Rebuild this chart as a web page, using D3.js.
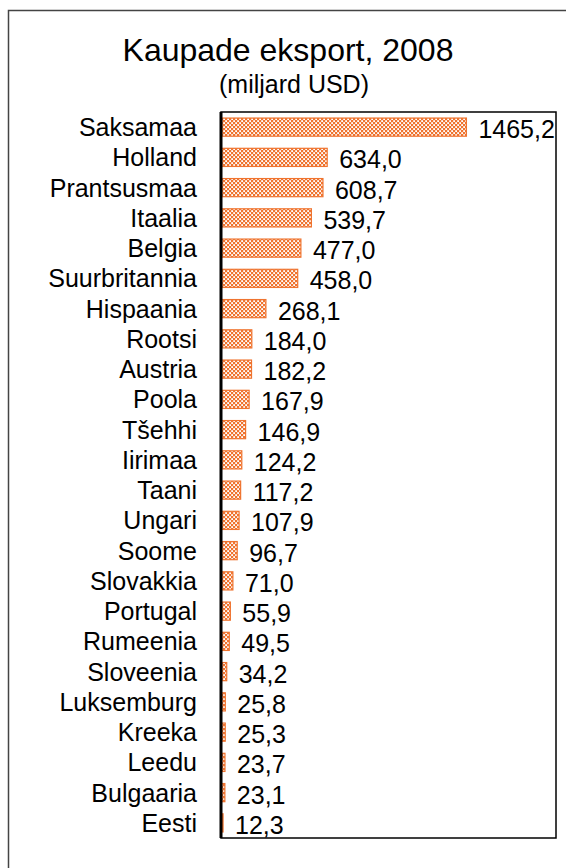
<!DOCTYPE html>
<html>
<head>
<meta charset="utf-8">
<script src="https://cdn.jsdelivr.net/npm/d3@7"></script>
<style>
  body { margin: 0; background: #fff; }
  svg { display: block; font-family: "Liberation Sans", Arial, sans-serif; }
</style>
</head>
<body>
<div id="chart"></div>
<script>
// Data
const countries = ['Saksamaa', 'Holland', 'Prantsusmaa', 'Itaalia', 'Belgia', 'Suurbritannia',
    'Hispaania', 'Rootsi', 'Austria', 'Poola', 'Tšehhi', 'Iirimaa', 'Taani', 'Ungari', 'Soome',
    'Slovakkia', 'Portugal', 'Rumeenia', 'Sloveenia', 'Luksemburg', 'Kreeka', 'Leedu', 'Bulgaaria', 'Eesti']
const exports = [1465.2, 634.0, 608.7, 539.7, 477.0, 458.0, 268.1, 184.0, 182.2, 167.9, 146.9, 124.2,
    117.2, 107.9, 96.7, 71.0, 55.9, 49.5, 34.2, 25.8, 25.3, 23.7, 23.1, 12.3]
const title = 'Kaupade eksport, 2008'
const subtitle = '(miljard USD)'

const rows = countries.map((c, i) => ({ country: c, value: exports[i] }))

const width = 566
const height = 868
const margin = { top: 112, right: 10, bottom: 30, left: 221 }
const chartWidth = 556 - margin.left
const chartHeight = 838 - margin.top

const svg = d3.select('#chart').append('svg')
    .attr('width', width)
    .attr('height', height)

// Checker pattern
const defs = svg.append('defs')
const pat = defs.append('pattern')
    .attr('id', 'checker')
    .attr('patternUnits', 'userSpaceOnUse')
    .attr('width', 4)
    .attr('height', 4)
pat.append('rect').attr('width', 4).attr('height', 4).attr('fill', '#ef7430')
pat.append('rect').attr('x', 0.2).attr('y', 0.2).attr('width', 1.8).attr('height', 1.8).attr('fill', '#fff')
pat.append('rect').attr('x', 2.2).attr('y', 2.2).attr('width', 1.8).attr('height', 1.8).attr('fill', '#fff')

// Outer frame (right and bottom run off the page)
svg.append('path')
    .attr('d', `M8.5,${height + 5} V10.5 H${width + 5}`)
    .attr('fill', 'none')
    .attr('stroke', '#444')
    .attr('stroke-width', 1.5)

// Titles
svg.append('text')
    .attr('x', 288).attr('y', 61)
    .attr('text-anchor', 'middle')
    .attr('font-size', 32)
    .attr('fill', '#000')
    .text(title)
svg.append('text')
    .attr('x', 294).attr('y', 93)
    .attr('text-anchor', 'middle')
    .attr('font-size', 25)
    .attr('fill', '#000')
    .text(subtitle)

// Scales
const x = d3.scaleLinear().domain([0, 2000]).range([0, chartWidth])
const y = d3.scaleBand().domain(countries).range([0, chartHeight]).paddingInner(0.4).paddingOuter(0.2)

const g = svg.append('g').attr('transform', `translate(${margin.left},${margin.top})`)

// Bars
g.selectAll('rect.bar')
    .data(rows)
    .join('rect')
    .attr('class', 'bar')
    .attr('x', x(0) + 1)
    .attr('y', d => y(d.country))
    .attr('width', d => Math.max(0, x(d.value) - 1))
    .attr('height', y.bandwidth())
    .attr('fill', 'url(#checker)')
    .attr('stroke', '#ef7430')
    .attr('stroke-width', 1.2)

// Value labels
g.selectAll('text.value')
    .data(rows)
    .join('text')
    .attr('class', 'value')
    .attr('x', d => x(d.value) + 12)
    .attr('y', d => y(d.country) + y.bandwidth() / 2 + 11)
    .attr('font-size', 25)
    .attr('fill', '#000')
    .text(d => d3.format('.1f')(d.value).replace('.', ','))

// Category axis
const yAxis = d3.axisLeft(y).tickSize(0).tickPadding(24)
g.append('g')
    .call(yAxis)
    .call(a => a.select('.domain').remove())
    .selectAll('text')
    .attr('dy', null)
    .attr('y', 9)
    .attr('font-size', 25)
    .attr('font-family', '"Liberation Sans", Arial, sans-serif')
    .attr('fill', '#000')

// Plot area border
g.append('rect')
    .attr('x', 0).attr('y', 0)
    .attr('width', chartWidth).attr('height', chartHeight)
    .attr('fill', 'none')
    .attr('stroke', '#000')
    .attr('stroke-width', 1.5)
g.append('line')
    .attr('x1', 0).attr('x2', 0)
    .attr('y1', 0).attr('y2', chartHeight)
    .attr('stroke', '#000')
    .attr('stroke-width', 3)
</script>
</body>
</html>
